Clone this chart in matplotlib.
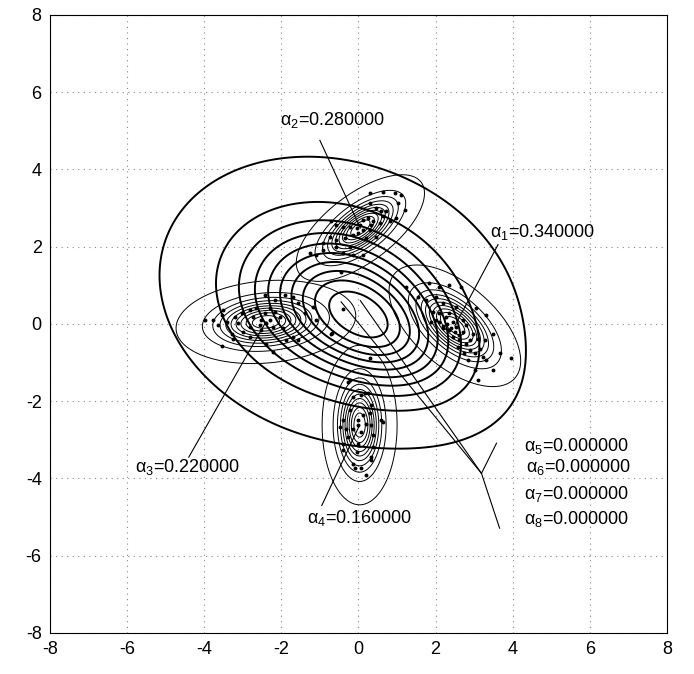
import numpy as np
import matplotlib
matplotlib.use("Agg")
import matplotlib.pyplot as plt

plt.rcParams['font.family'] = ['Liberation Sans', 'DejaVu Sans']
plt.rcParams['mathtext.default'] = 'regular'
plt.rcParams['axes.unicode_minus'] = False

# Fitted mixture components: mean, std along major/minor axis, rotation (deg)
comp_means = [(2.5, -0.05), (0.05, 2.48), (-2.4, 0.05), (0.03, -2.62)]
comp_sig_major = [0.68, 0.65, 0.77, 0.68]
comp_sig_minor = [0.35, 0.29, 0.35, 0.32]
comp_angle = [-41, 37, 5, 90]
comp_weights = [0.34, 0.28, 0.22, 0.16]
extra_weights = [0.0, 0.0, 0.0, 0.0]

# Broad initial mixture (thick contours)
init_means = [(-0.5, 0.6), (0.8, -0.35)]
init_covs = [[[2.5, -0.35], [-0.35, 1.6]], [[1.4, -0.35], [-0.35, 0.9]]]
init_weights = [0.78, 0.22]

# Sample points
pts_x = [0.29, 0.64, 0.94, 1.11, 0.29, 0.46, 0.59, 0.72, 1.02, 1.20, 0.12, 0.25, 0.38,
         0.55, 0.81, 0.98, -0.70, -0.57, -0.40, -0.23, -0.05, 0.12, 0.29, -0.14, -0.01,
         -0.75, -0.57, -0.36, 0.20, 0.46, -0.92, -0.57, -0.23, -0.92, 0.12, -0.14, -0.40,
         -1.26, -1.09, 0.64, 0.03, 0.33,
         -3.98, -3.77, -3.55, -3.42, -3.51, -3.21, -3.03, -2.82, -2.65, -2.43, -2.30, -2.17,
         -2.04, -2.39, -2.56, -2.82, -2.99, -3.29, -3.55, -3.25, -2.52, -2.21, -1.95, -1.87,
         -1.70, -1.57, -2.43, -2.17, -1.91, -1.70, -1.57, -1.39, -2.39, -2.21, -2.82, -3.12,
         -3.64, -2.73, -2.52, -2.30, -0.70, -1.09, -1.18,
         1.24, 1.54, 1.84, 2.10, 2.36, 2.66, 1.76, 2.02, 2.19, 1.93, 2.10, 2.28, 2.45, 2.10,
         2.19, 2.36, 2.54, 2.71, 2.45, 2.62, 2.79, 2.88, 3.01, 3.14, 3.23, 2.84, 3.01, 3.31,
         3.49, 3.10, 3.66, 3.96, 3.05, 3.31, 3.49, 2.97, 2.79, 2.36, 2.71, 2.54, 2.88, 3.10,
         3.27, 2.75, 2.58, 2.02, 1.89, 2.40, 2.50, 2.30, 2.60, 2.20,
         -0.23, -0.27, 0.16, 0.25, 0.07, -0.14, 0.33, -0.23, 0.12, 0.29, -0.40, -0.01, 0.20,
         0.59, 0.64, -0.49, -0.31, -0.14, -0.01, 0.07, 0.33, -0.40, -0.01, 0.38, -0.40, -0.14,
         -0.10, 0.07, 0.33, 0.33, 0.20, -0.27, 0.38, -0.05,
         -0.41, -0.44, -0.69, 0.29]
pts_y = [3.38, 3.42, 3.38, 3.34, 3.12, 2.99, 2.91, 2.91, 3.12, 2.95, 2.69, 2.73, 2.65,
         2.60, 2.65, 2.73, 2.65, 2.56, 2.52, 2.52, 2.47, 2.43, 2.43, 2.30, 2.34,
         2.26, 2.17, 2.21, 2.21, 2.26, 2.09, 2.00, 2.00, 1.91, 1.78, 1.78, 1.83,
         1.83, 1.78, 2.78, 2.56, 2.56,
         0.10, 0.10, 0.23, 0.06, 0.36, 0.19, 0.27, 0.36, 0.40, 0.27, 0.40, 0.31,
         0.19, 0.01, -0.03, -0.07, -0.20, -0.25, -0.57, -0.38, -0.16, -0.07, -0.12, -0.42,
         -0.33, -0.42, 0.75, 0.62, 0.75, 0.70, 0.53, 0.27, -0.51, -0.72, -0.33, 0.01,
         -0.03, 0.19, 0.10, 0.10, -0.25, 0.10, 0.44,
         0.96, 0.70, 1.05, 0.96, 1.00, 0.96, 0.62, 0.70, 0.53, 0.31, 0.27, 0.19, 0.06, 0.06,
         -0.12, -0.16, -0.07, -0.20, -0.33, -0.42, -0.51, -0.68, -0.76, -0.64, -0.85, -0.94,
         -1.20, -0.94, -1.20, -1.46, -0.76, -0.89, 0.40, 0.23, -0.25, -0.25, -0.03, 0.27,
         0.10, 0.44, -0.42, -0.38, -0.42, -0.76, -0.59, 0.10, 0.06, -0.10, -0.20, 0.00,
         -0.30, -0.05,
         -1.46, -1.50, -1.80, -1.80, -1.84, -1.89, -2.10, -2.23, -2.36, -2.32, -2.49, -2.49,
         -2.58, -2.49, -2.54, -2.67, -2.71, -2.71, -2.62, -2.79, -2.62, -3.10, -3.10, -3.18,
         -3.27, -3.62, -3.74, -3.74, -3.44, -3.53, -3.92, -2.92, -2.88, -3.31,
         0.38, 1.34, -0.24, -0.89]

# Label anchors (data coords) and where the leader lines leave the text
label_xy = [(3.40, 2.38), (-2.04, 5.28), (-5.8, -3.71), (-1.34, -5.03)]
leader_xy = [(3.62, 2.05), (-1.0, 4.75), (-4.4, -3.45), (-0.95, -4.7)]
extra_label_xy = [(4.3, -3.17), (4.35, -3.71), (4.3, -4.41), (4.3, -5.06)]
junction = (3.19, -3.87)
junction_ends = [(3.58, -3.09), (3.66, -5.29)]
junction_targets = [(0.05, 0.6), (-0.45, 0.57)]

levels = [0.01, 0.1, 0.2, 0.3, 0.4, 0.5, 0.6, 0.7, 0.8, 0.9]


def cov_from(smaj, smin, ang):
    t = np.deg2rad(ang)
    R = np.array([[np.cos(t), -np.sin(t)], [np.sin(t), np.cos(t)]])
    return R @ np.diag([smaj ** 2, smin ** 2]) @ R.T


def gauss(X, Y, mu, cov):
    inv = np.linalg.inv(cov)
    dx = X - mu[0]
    dy = Y - mu[1]
    q = inv[0, 0] * dx * dx + 2 * inv[0, 1] * dx * dy + inv[1, 1] * dy * dy
    return np.exp(-0.5 * q) / (2 * np.pi * np.sqrt(np.linalg.det(cov)))


g = np.linspace(-8, 8, 500)
X, Y = np.meshgrid(g, g)

fig = plt.figure(figsize=(6.94, 6.74), dpi=100)
ax = fig.add_axes([0.072, 0.061, 0.889, 0.917])

# thin contours of each fitted component
for mu, a, b, ang in zip(comp_means, comp_sig_major, comp_sig_minor, comp_angle):
    Z = gauss(X, Y, mu, cov_from(a, b, ang))
    ax.contour(X, Y, Z / Z.max(), levels=levels, colors='black', linewidths=0.7)

# thick contours of the broad starting mixture
Zi = sum(w * gauss(X, Y, m, np.array(c)) for m, c, w in zip(init_means, init_covs, init_weights))
ax.contour(X, Y, Zi / Zi.max(), levels=levels, colors='black', linewidths=1.4)

ax.plot(pts_x, pts_y, 'o', color='black', markersize=2.8, markeredgewidth=0)

# leader lines and weight labels
for i, (mu, lab, lead, w) in enumerate(zip(comp_means, label_xy, leader_xy, comp_weights)):
    ax.plot([lead[0], mu[0]], [lead[1], mu[1]], color='black', linewidth=0.8)
    ax.text(lab[0], lab[1], r'$\alpha_{%d}$=%.6f' % (i + 1, w), fontsize=13, va='center')

for t in junction_targets:
    ax.plot([junction[0], t[0]], [junction[1], t[1]], color='black', linewidth=0.8)
for e in junction_ends:
    ax.plot([junction[0], e[0]], [junction[1], e[1]], color='black', linewidth=0.8)
for i, (lab, w) in enumerate(zip(extra_label_xy, extra_weights)):
    ax.text(lab[0], lab[1], r'$\alpha_{%d}$=%.6f' % (i + 5, w), fontsize=13, va='center')

ax.set_xlim(-8, 8)
ax.set_ylim(-8, 8)
ax.set_xticks(range(-8, 9, 2))
ax.set_yticks(range(-8, 9, 2))
ax.tick_params(labelsize=13, length=0, pad=6)
ax.grid(color='#888888', linestyle=(0, (1, 4)), linewidth=0.8)

plt.savefig('out.png', dpi=100)
